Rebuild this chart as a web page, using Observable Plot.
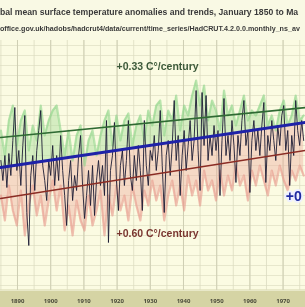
<!DOCTYPE html>
<html><head><meta charset="utf-8">
<script src="https://cdn.jsdelivr.net/npm/d3@7"></script>
<script src="https://cdn.jsdelivr.net/npm/@observablehq/plot@0.6"></script>
<style>
html,body{margin:0;padding:0;background:#f9f9e4;}
#wrap{width:305px;height:307px;overflow:hidden;position:relative;filter:blur(0.5px);}
#t1{position:absolute;left:0;top:7px;height:12px;line-height:12px;font:bold 8.65px "Liberation Sans",Arial,sans-serif;color:#3a3a3a;white-space:nowrap;}
#t2{position:absolute;left:0;top:25px;height:10px;line-height:10px;font:bold 7.15px "Liberation Sans",Arial,sans-serif;color:#3a3a3a;white-space:nowrap;}
#chart{position:absolute;left:0;top:40px;}
svg{display:block;}
</style></head>
<body><div id="wrap">
<div id="t1">bal mean surface temperature anomalies and trends, January 1850 to Ma</div>
<div id="t2">office.gov.uk/hadobs/hadcrut4/data/current/time_series/HadCRUT.4.2.0.0.monthly_ns_av</div>
<div id="chart"></div>
</div>
<script>
// monthly-ish anomaly (°C), sampled every 0.6 yr from 1885
const central = [
-0.35,-0.55,-0.30,-0.62,-0.28,-0.50,-0.15,0.18,-0.45,-0.25,-0.60,-0.20,0.10,-0.87,-1.20,-0.50,-0.30,-0.65,-0.25,-0.05,0.15,-0.40,-0.55,-0.75,-0.35,-0.50,-0.20,-0.60,-0.30,-0.55,
-0.10,-0.45,-0.70,-1.00,-0.55,-0.35,-0.75,-0.50,-0.65,-0.30,-0.10,-0.60,-0.93,-0.70,-0.45,-0.80,-0.40,-0.90,-0.55,-0.35,-0.60,-0.40,-0.70,
0.05,-1.17,-0.45,-0.30,0.03,-0.55,-0.85,-0.40,-0.25,-0.60,-0.35,0.05,-0.50,-0.65,-0.30,-0.55,-0.20,-0.45,-0.85,0.05,-0.40,-0.60,-0.25,
-0.35,-0.10,-0.45,-0.25,0.15,-0.40,-0.87,-0.30,-0.15,-0.50,-0.20,0.25,-0.35,-0.10,-0.70,-0.30,-0.05,-0.45,-0.20,0.05,-0.35,-0.15,0.35,-0.25,-0.65,
0.33,-0.20,0.30,-0.35,-0.10,-0.30,0.00,-0.25,-0.05,-0.70,-0.15,0.27,-0.30,-0.10,-0.35,0.05,-0.20,-0.57,-0.10,-0.30,0.05,0.25,-0.20,-0.05,-0.67,
-0.15,0.05,-0.25,-0.05,-0.30,0.00,0.23,-0.57,-0.10,-0.25,0.05,-0.15,-0.35,0.00,-0.20,0.10,0.20,-0.25,-0.05,-0.60,-0.10,-0.30,0.25,-0.05,-0.20,0.05,-0.15
];
// upper bound, sampled every 1.2 yr from 1885
const upper = [
-0.05,-0.30,0.05,0.20,-0.20,0.05,0.15,-0.25,0.00,-0.15,0.20,-0.10,0.05,0.15,0.20,-0.05,-0.30,-0.05,-0.35,-0.10,0.00,-0.40,-0.15,-0.05,-0.30,-0.10,
0.05,0.15,-0.20,0.10,-0.15,0.05,0.12,-0.20,0.00,0.10,-0.15,0.15,0.00,0.20,0.25,-0.10,0.15,0.05,0.30,-0.05,0.20,0.10,0.30,0.45,0.20,
0.40,0.05,0.25,0.15,-0.05,0.35,0.10,0.20,0.00,0.15,0.30,0.05,0.15,0.10,0.20,0.30,0.00,0.10,-0.05,0.15,0.25,0.00,0.10,0.30,0.05,0.10
];
// lower bound, sampled every 1.2 yr from 1885
const lower = [
-0.70,-0.95,-0.60,-0.85,-1.00,-0.65,-1.10,-0.80,-0.60,-0.90,-0.70,-1.00,-0.75,-0.55,-0.85,-0.60,-1.05,-0.80,-1.10,-0.75,-0.95,-1.05,-0.70,-1.00,-0.85,-0.65,
-1.10,-0.70,-0.90,-0.60,-0.85,-0.70,-0.95,-0.60,-0.80,-0.95,-0.65,-0.80,-0.55,-0.75,-0.60,-0.95,-0.70,-0.55,-0.80,-0.60,-0.85,-0.50,-0.70,-0.55,-0.80,
-0.45,-0.65,-0.55,-0.75,-0.45,-0.70,-0.50,-0.65,-0.40,-0.60,-0.50,-0.75,-0.45,-0.60,-0.40,-0.55,-0.70,-0.45,-0.60,-0.40,-0.55,-0.65,-0.45,-0.55,-0.40,-0.50
];
const trendYears = [1884.9, 1976.7];
const trendGreen = [-0.12, 0.18];
const trendBlue  = [-0.42, 0.03];
const trendRed   = [-0.73, -0.25];
const tickYears = [1890,1900,1910,1920,1930,1940,1950,1960,1970];
const labelGreen = "+0.33 C°/century";
const labelRed = "+0.60 C°/century";
const labelBlue = "+0";

const blueAt = t => trendBlue[0] + (trendBlue[1]-trendBlue[0])*(t-trendYears[0])/(trendYears[1]-trendYears[0]);
const cData = central.map((v,i)=>({t:1885+i*0.6, v}));
const uData = upper.map((v,i)=>({t:1885+i*1.2, v, b: blueAt(1885+i*1.2)}));
const lData = lower.map((v,i)=>({t:1885+i*1.2, v, b: blueAt(1885+i*1.2)}));
const tr = (arr)=>arr.map((v,i)=>({t:trendYears[i], v}));

const chart = Plot.plot({
  width: 305, height: 267,
  marginTop: 0, marginBottom: 17, marginLeft: 0, marginRight: 0,
  style: {background: "linear-gradient(to bottom,#fbfbe2 0,#fbfbe2 249px,#e8e8c8 249px,#e8e8c8 251px,#d5d4a4 251px)", overflow: "hidden"},
  x: {domain: [1884.88, 1976.75]},
  y: {domain: [-1.65, 0.85], axis: null},
  marks: [
    Plot.gridY(d3.range(-16, 9).map(d=>d/10), {stroke: "#e2e2c6", strokeOpacity: 1, strokeWidth: 0.8}),
    Plot.gridX(d3.range(1885, 1980, 5), {stroke: "#dcdcc0", strokeOpacity: 1, strokeWidth: 0.8}),
    Plot.gridX(tickYears, {stroke: "#cfcfb4", strokeOpacity: 1, strokeWidth: 1}),
    Plot.areaY(uData, {x: "t", y1: "b", y2: "v", fill: "#a6dc98", fillOpacity: 0.45}),
    Plot.areaY(lData, {x: "t", y1: "b", y2: "v", fill: "#eeb0a2", fillOpacity: 0.45}),
    Plot.line(uData, {x: "t", y: "v", stroke: "#8fd68a", strokeWidth: 2.2, strokeOpacity: 0.6}),
    Plot.line(lData, {x: "t", y: "v", stroke: "#e89a8c", strokeWidth: 2.2, strokeOpacity: 0.6}),
    Plot.line(cData, {x: "t", y: "v", stroke: "#1c1c34", strokeWidth: 0.9}),
    Plot.line(tr(trendGreen), {x: "t", y: "v", stroke: "#2f6a33", strokeWidth: 1.7}),
    Plot.line(tr(trendRed), {x: "t", y: "v", stroke: "#8a2c24", strokeWidth: 1.4}),
    Plot.line(tr(trendBlue), {x: "t", y: "v", stroke: "#1e22a8", strokeWidth: 3}),
    Plot.text([labelGreen], {x: 1932.2, y: 0.59, text: d=>d, fill: "#3d5a3a", fontSize: 10.5, fontWeight: "bold", fontFamily: "Liberation Sans, Arial, sans-serif"}),
    Plot.text([labelRed], {x: 1932.2, y: -1.08, text: d=>d, fill: "#7a3630", fontSize: 10.5, fontWeight: "bold", fontFamily: "Liberation Sans, Arial, sans-serif"}),
    Plot.text([labelBlue], {x: 1970.8, y: -0.71, text: d=>d, textAnchor: "start", fill: "#1e2aa0", stroke: "#eef0ff", strokeWidth: 4, fontSize: 14, fontWeight: "bold", fontFamily: "Liberation Sans, Arial, sans-serif"}),
    Plot.axisX(tickYears, {tickSize: 0, tickPadding: 8, tickFormat: "d", fontSize: 6, fontWeight: "bold", fill: "#4a4a3a", label: null})
  ]
});
document.getElementById("chart").appendChild(chart);
</script>
</body></html>
